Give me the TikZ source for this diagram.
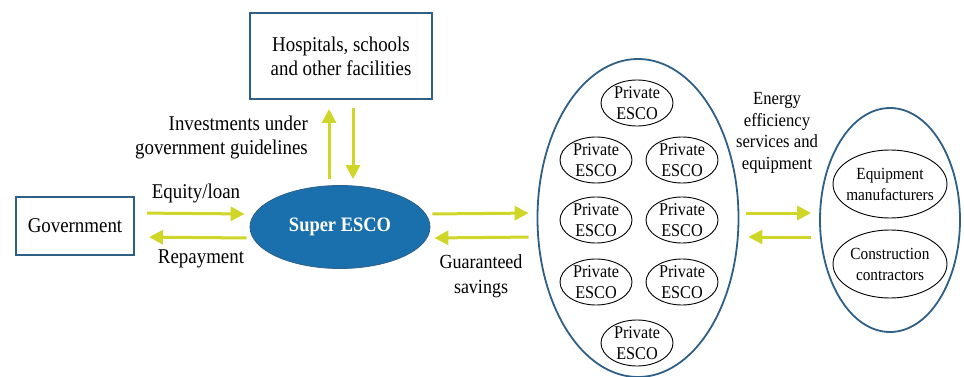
\documentclass[tikz,border=0pt]{standalone}
\usepackage{fontspec}
\setmainfont[FakeStretch=0.9]{Liberation Serif}
\usetikzlibrary{arrows.meta,shapes.geometric}
\definecolor{boxblue}{RGB}{46,95,135}
\definecolor{fillblue}{RGB}{26,112,172}
\definecolor{arrowyel}{RGB}{208,214,40}
\tikzset{
  sq/.style={draw=boxblue,line width=2pt,fill=white,inner sep=0pt,align=center,font=\fontsize{21}{24}\selectfont},
  bigell/.style={ellipse,draw=boxblue,line width=1.8pt,inner sep=0pt},
  pesco/.style={ellipse,draw=black,line width=0.9pt,inner sep=0pt,minimum width=72pt,minimum height=46pt,
    label={[font=\fontsize{18}{21}\selectfont,align=center,inner sep=0pt]center:Private\\ESCO}},
  rell/.style={ellipse,draw=black,line width=0.9pt,inner sep=0pt,minimum width=114pt,minimum height=68pt},
  rtext/.style={font=\fontsize{17}{21}\selectfont,align=center,inner sep=0pt},
  lab/.style={font=\fontsize{21}{24}\selectfont,align=center,inner sep=0pt},
  arr/.style={draw=arrowyel,line width=3pt,-{Triangle[length=14pt,width=14pt]}},
}
\begin{document}
\begin{tikzpicture}[x=1pt,y=-1pt]
\useasboundingbox (0,0) rectangle (964,377);
% nodes
\node[sq,minimum width=118pt,minimum height=58pt] (gov) at (75,226) {Government};
\node[sq,minimum width=182pt,minimum height=86pt] (hosp) at (341,56) {Hospitals, schools\\and other facilities};
\node[ellipse,fill=fillblue,draw=boxblue,line width=0.8pt,minimum width=180pt,minimum height=83pt,inner sep=0pt,
  text=white,font=\bfseries\fontsize{20.5}{24}\selectfont] (super) at (340,227) {Super ESCO};
\node[bigell,minimum width=201pt,minimum height=318pt] (big) at (638,218) {};
\node[pesco] (p1) at (637,103) {};
\node[pesco] (p2) at (596,160) {};
\node[pesco] (p3) at (682,160) {};
\node[pesco] (p4) at (596,220) {};
\node[pesco] (p5) at (682,220) {};
\node[pesco] (p6) at (596,282) {};
\node[pesco] (p7) at (682,282) {};
\node[pesco] (p8) at (637,343) {};
\node[bigell,minimum width=140pt,minimum height=224pt] (right) at (890,220) {};
\node[rell] (eq) at (890,184) {};
\node[rtext] (eqt) at (eq.center) {Equipment\\manufacturers};
\node[rell] (con) at (890,264) {};
\node[rtext] (cont) at (con.center) {Construction\\contractors};
% labels
\node[lab] (l1) at (196,193) {Equity/loan};
\node[lab] (l2) at (201,259) {Repayment};
\node[lab,align=right,anchor=east] (l3) at (308,137) {Investments under\\government guidelines};
\node[lab,font=\fontsize{20}{25}\selectfont] (l4) at (481,276) {Guaranteed\\savings};
\node[lab,font=\fontsize{18.5}{21.5}\selectfont] (l5) at (777,133) {Energy\\efficiency\\services and\\equipment};
% arrows
\draw[arr,shorten <=12pt,shorten >=5pt] ([yshift=13pt]gov.east) -- ([yshift=13pt]super.west);
\draw[arr,shorten <=3pt,shorten >=14pt] ([yshift=-11pt]super.west) -- ([yshift=-11pt]gov.east);
\draw[arr,shorten <=6pt,shorten >=9pt] ([xshift=-11pt]super.north) -- ([xshift=-12pt]hosp.south);
\draw[arr,shorten <=8pt,shorten >=6pt] ([xshift=12pt]hosp.south) -- ([xshift=13pt]super.north);
\draw[arr,shorten <=2pt,shorten >=8pt] ([yshift=13pt]super.east) -- ([yshift=5pt]big.west);
\draw[arr,shorten <=8pt,shorten >=4pt] ([yshift=-19pt]big.west) -- ([yshift=-11pt]super.east);
\draw[arr,shorten <=7pt,shorten >=8pt] ([yshift=5pt]big.east) -- ([yshift=7pt]right.west);
\draw[arr,shorten <=8pt,shorten >=9pt] ([yshift=-17pt]right.west) -- ([yshift=-19pt]big.east);
\end{tikzpicture}
\end{document}
